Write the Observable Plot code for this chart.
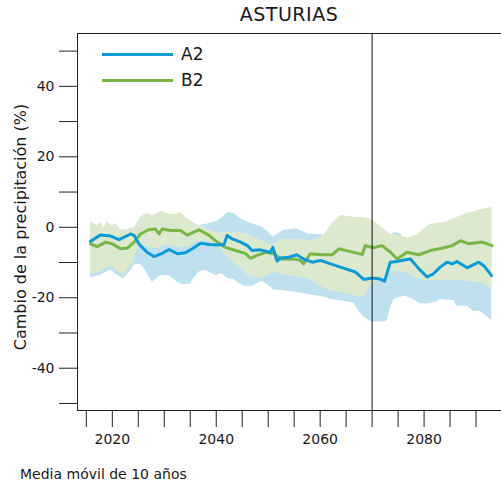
<!DOCTYPE html>
<html>
<head>
<meta charset="utf-8">
<script src="https://cdn.jsdelivr.net/npm/d3@7"></script>
<script src="https://cdn.jsdelivr.net/npm/@observablehq/plot@0.6"></script>
<style>
  body { margin: 0; background: #fff; font-family: "DejaVu Sans", Verdana, sans-serif; }
  #wrap { position: relative; width: 501px; height: 485px; overflow: hidden; background: #fff; }
  #wrap svg { position: absolute; left: 0; top: 0; }
  .title { position: absolute; left: 77px; width: 424px; top: 5px; text-align: center; font-size: 19px; line-height: 19px; color: #1a1a1a; letter-spacing: 0.5px; }
  .caption { position: absolute; left: 20px; top: 467px; font-size: 14px; line-height: 14px; color: #1a1a1a; }
  .leg-line { position: absolute; left: 102px; width: 71px; height: 3px; }
  .leg-text { position: absolute; left: 181px; font-size: 17px; line-height: 17px; color: #1a1a1a; }
</style>
</head>
<body>
<div id="wrap"></div>
<script>
// ---- data ----
const title = "ASTURIAS";
const caption = "Media móvil de 10 años";
const yLabel = "Cambio de la precipitación (%)";
const seriesNames = ["A2", "B2"];
const seriesColors = ["#0d9bd8", "#77b647"];
const bandColors = ["#bee0ef", "#dde9cf"];

const yTickLabels = [-40, -20, 0, 20, 40];
const yMinorTicks = [-50, -30, -10, 10, 30, 50];
const xTickLabels = [2020, 2040, 2060, 2080];
const xMinorTicks = [2015, 2025, 2030, 2035, 2045, 2050, 2055, 2065, 2070, 2075, 2085, 2090];
const markerYear = 2070;
const xDomain = [2013.3, 2094.9];
const yDomain = [-52, 55];

// A2 line (10-year moving average)
const a2LineYears = [2015.8, 2017.7, 2019.7, 2021.3, 2023.5, 2024.2, 2025.1, 2026.7, 2028, 2029.6, 2030.9, 2032.5, 2034.1, 2035.4, 2037, 2038.6, 2040.5, 2041.5, 2042.1, 2043.1, 2044.7, 2046, 2046.9, 2048.5, 2050.4, 2050.9, 2051.7, 2052.4, 2054, 2055.5, 2056.8, 2058.5, 2060.1, 2062, 2064.5, 2066.8, 2068.4, 2070, 2071.3, 2072.4, 2073.5, 2074.8, 2076.4, 2077.4, 2079, 2080.6, 2081.8, 2083.1, 2084.4, 2085.4, 2086.3, 2088.3, 2090.5, 2091.5, 2093];
const a2Line = [-4.0, -2.2, -2.5, -3.5, -1.9, -2.3, -4.7, -7.1, -8.3, -7.4, -6.3, -7.5, -7.2, -6.1, -4.5, -4.9, -5.0, -4.9, -2.3, -3.3, -4.2, -5.2, -6.6, -6.4, -7.1, -5.7, -9.6, -8.7, -8.5, -7.8, -9.0, -9.9, -9.4, -10.4, -11.6, -12.7, -14.8, -14.4, -14.6, -15.3, -9.9, -9.7, -9.2, -9.0, -11.8, -14.1, -13.2, -11.3, -9.9, -10.4, -9.7, -11.5, -9.9, -10.9, -13.7];

// B2 line
const b2LineYears = [2015.8, 2017.1, 2018.7, 2020, 2021.6, 2022.9, 2024.2, 2025.4, 2027, 2028.3, 2029, 2029.6, 2031.2, 2033.1, 2034.4, 2036.7, 2038.6, 2040.2, 2041.8, 2043.7, 2045.6, 2046.6, 2047.9, 2049.5, 2051.1, 2052.4, 2055.3, 2056.2, 2056.8, 2058.1, 2060.1, 2062.3, 2063.6, 2065.8, 2068.1, 2068.7, 2070.3, 2071.9, 2073.5, 2074.8, 2076.7, 2079, 2081.2, 2083.8, 2085.4, 2087, 2088.6, 2091.2, 2093.1];
const b2Line = [-4.7, -5.5, -4.2, -4.7, -6.1, -5.9, -4.2, -1.9, -0.7, -0.5, -1.9, -0.5, -0.9, -0.9, -2.2, -0.7, -2.3, -4.2, -5.7, -6.6, -7.4, -8.8, -8.0, -7.1, -7.5, -9.0, -9.1, -9.4, -10.4, -7.5, -7.8, -7.8, -6.1, -6.9, -7.7, -5.2, -5.8, -5.2, -7.0, -9.0, -7.1, -7.8, -6.6, -5.8, -5.2, -3.8, -4.7, -4.2, -5.2];

// A2 range band
const a2BandYears = [2015.8, 2017.7, 2019.7, 2021.0, 2022.2, 2023.5, 2024.2, 2025.4, 2026.4, 2027.7, 2029.3, 2030.9, 2032.5, 2033.8, 2035.1, 2035.4, 2036.7, 2037.9, 2039.9, 2041.2, 2042.1, 2042.4, 2043.4, 2044.3, 2045.5, 2046.9, 2048.8, 2050.1, 2051.0, 2052.9, 2055.6, 2057.5, 2058.7, 2060.6, 2062.0, 2064.5, 2066.5, 2067.1, 2068.4, 2070.0, 2072.2, 2072.9, 2073.5, 2074.2, 2075.5, 2076.5, 2078.0, 2079.3, 2080.6, 2082.5, 2083.1, 2085.7, 2086.3, 2088.3, 2089.6, 2090.8, 2093.0];
const a2Hi = [-2, -2, -1.5, -1.5, -1.5, -0.3, -0.3, 0, 0, 0, 0, 0, 0, 0, 0, 0.2, 0.5, 0.8, 1.5, 2.8, 4.0, 4.1, 4.0, 2.8, 1.8, 1.0, 0.0, -1.5, -2.8, -0.9, -0.5, -1.8, -2.0, -2.2, -4.5, -5, -5, -5, -5, -5, -4, -3.5, -3, -1.5, -1.8, -4, -6, -6, -6, -6, -6, -6, -6, -6, -6, -6, -6];
const a2Lo = [-14.3, -13.7, -12.1, -13.7, -14.6, -12.5, -10.8, -10.4, -12.3, -15.6, -13.7, -13.7, -15.6, -16.3, -16.0, -15.1, -12.7, -12.2, -13.7, -13.2, -14.5, -14.6, -14.8, -15.8, -16.8, -16.8, -15.3, -16.5, -17.8, -18.0, -18.5, -19.0, -19.3, -19.8, -20.5, -21.0, -21.5, -23.1, -25.5, -26.9, -26.9, -26.5, -23.0, -20.5, -19.8, -19.6, -20.5, -21.7, -21.8, -21.2, -20.5, -20.8, -22.4, -22.4, -24.0, -23.8, -26.4];

// B2 range band
const b2BandYears = [2015.8, 2017.1, 2017.75, 2018.4, 2019.0, 2020.0, 2020.6, 2021.6, 2022.2, 2023.5, 2024.2, 2024.5, 2025.4, 2026.7, 2027.7, 2029.3, 2030.9, 2032.2, 2033.1, 2034.4, 2036.0, 2037.9, 2040.2, 2041.8, 2043.7, 2044.7, 2045.6, 2046.6, 2048.8, 2049.1, 2050.1, 2050.8, 2051.0, 2052.4, 2052.9, 2055.5, 2057.6, 2058.2, 2060.0, 2060.6, 2061.8, 2062.6, 2063.9, 2064.5, 2065.8, 2067.0, 2068.4, 2069.7, 2071.0, 2072.2, 2073.5, 2075.4, 2076.7, 2077.4, 2078.7, 2079.9, 2081.2, 2084.4, 2086.3, 2088.3, 2090.2, 2090.8, 2093.1];
const b2Hi = [1.7, 0.5, 1.5, -0.3, 1.5, 0.5, 1.0, -0.7, -0.7, -0.7, 0, 0.5, 2.8, 4.0, 3.3, 4.5, 3.8, 3.6, 4.2, 2.4, 1.0, -0.3, -1.6, -1.5, -1.4, -1.6, -1.9, -2.3, -3.8, -3.9, -4.7, -5.2, -5.2, -3.3, -3.4, -3.5, -3.7, -3.8, -3.0, -2.5, 0.0, 1.4, 3.3, 3.3, 3.0, 2.8, 2.7, 2.3, 1.0, -0.5, -2.0, -2.5, -3.0, -2.8, -2.2, -0.5, 0.8, 1.5, 2.8, 4.0, 4.6, 5.0, 5.6];
const b2Lo = [-13.2, -13.0, -12.5, -11.8, -11.5, -11.3, -12.0, -13.2, -13.7, -10.8, -9.9, -7.5, -5.0, -5.5, -6.0, -5.8, -5.0, -5.5, -5.6, -5.8, -4.2, -3.8, -4.6, -8.0, -10.5, -11.7, -13.0, -14.1, -14.5, -14.6, -13.5, -12.8, -12.7, -13.3, -13.5, -14.0, -14.6, -15.0, -16.5, -17.0, -18.0, -18.2, -18.5, -18.7, -19.3, -19.5, -20.0, -16.5, -14.8, -14.5, -12.5, -12.5, -13.0, -13.7, -14.5, -15.1, -15.1, -15.1, -15.1, -15.3, -15.6, -15.8, -17.2];

// ---- build tables ----
const toLine = (years, vals) => years.map((year, i) => ({year, value: vals[i]}));
const toBand = (years, lo, hi) => years.map((year, i) => ({year, lo: lo[i], hi: hi[i]}));
const a2LineData = toLine(a2LineYears, a2Line);
const b2LineData = toLine(b2LineYears, b2Line);
const a2BandData = toBand(a2BandYears, a2Lo, a2Hi);
const b2BandData = toBand(b2BandYears, b2Lo, b2Hi);

const axisColor = "#222";
const chart = Plot.plot({
  width: 501,
  height: 460,
  marginLeft: 77,
  marginRight: 0,
  marginTop: 33,
  marginBottom: 50,
  style: {fontFamily: "'DejaVu Sans', Verdana, sans-serif", fontSize: "14px", color: "#1a1a1a", background: "transparent", overflow: "visible"},
  x: {domain: xDomain},
  y: {domain: yDomain},
  marks: [
    Plot.areaY(a2BandData, {x: "year", y1: "lo", y2: "hi", fill: bandColors[0]}),
    Plot.areaY(b2BandData, {x: "year", y1: "lo", y2: "hi", fill: bandColors[1]}),
    Plot.line(b2LineData, {x: "year", y: "value", stroke: seriesColors[1], strokeWidth: 3}),
    Plot.line(a2LineData, {x: "year", y: "value", stroke: seriesColors[0], strokeWidth: 3}),
    Plot.ruleX([markerYear], {stroke: "#111", strokeWidth: 1}),
    Plot.ruleY([yDomain[1]], {stroke: axisColor, strokeWidth: 1}),
    Plot.ruleY([yDomain[0]], {stroke: axisColor, strokeWidth: 1}),
    Plot.ruleX([xDomain[0]], {stroke: axisColor, strokeWidth: 1}),
    Plot.axisY(yTickLabels, {tickSize: 18, tickPadding: 5, label: null, stroke: axisColor, tickFormat: d => String(d), fontSize: 14}),
    Plot.axisY(yMinorTicks, {tickSize: 18, label: null, stroke: axisColor, tickFormat: () => ""}),
    Plot.axisX(xMinorTicks, {tickSize: 17, label: null, stroke: axisColor, tickFormat: () => ""}),
    Plot.axisX(xTickLabels, {tickSize: 17, tickPadding: 7, label: null, stroke: axisColor, tickFormat: d => String(d), fontSize: 14}),
    Plot.text([yLabel], {frameAnchor: "left", textAnchor: "middle", lineAnchor: "middle", rotate: -90, dx: -57, dy: 5, fontSize: 16, fill: "#1a1a1a", text: d => d})
  ]
});

const wrap = document.getElementById("wrap");
wrap.appendChild(chart);

function addDiv(cls, text, styles) {
  const el = document.createElement("div");
  el.className = cls;
  if (text) el.textContent = text;
  Object.assign(el.style, styles || {});
  wrap.appendChild(el);
  return el;
}
addDiv("title", title);
addDiv("caption", caption);
seriesNames.forEach((name, i) => {
  addDiv("leg-line", "", {top: (53 + i * 26) + "px", background: seriesColors[i]});
  addDiv("leg-text", name, {top: (46 + i * 26) + "px"});
});
</script>
</body>
</html>
